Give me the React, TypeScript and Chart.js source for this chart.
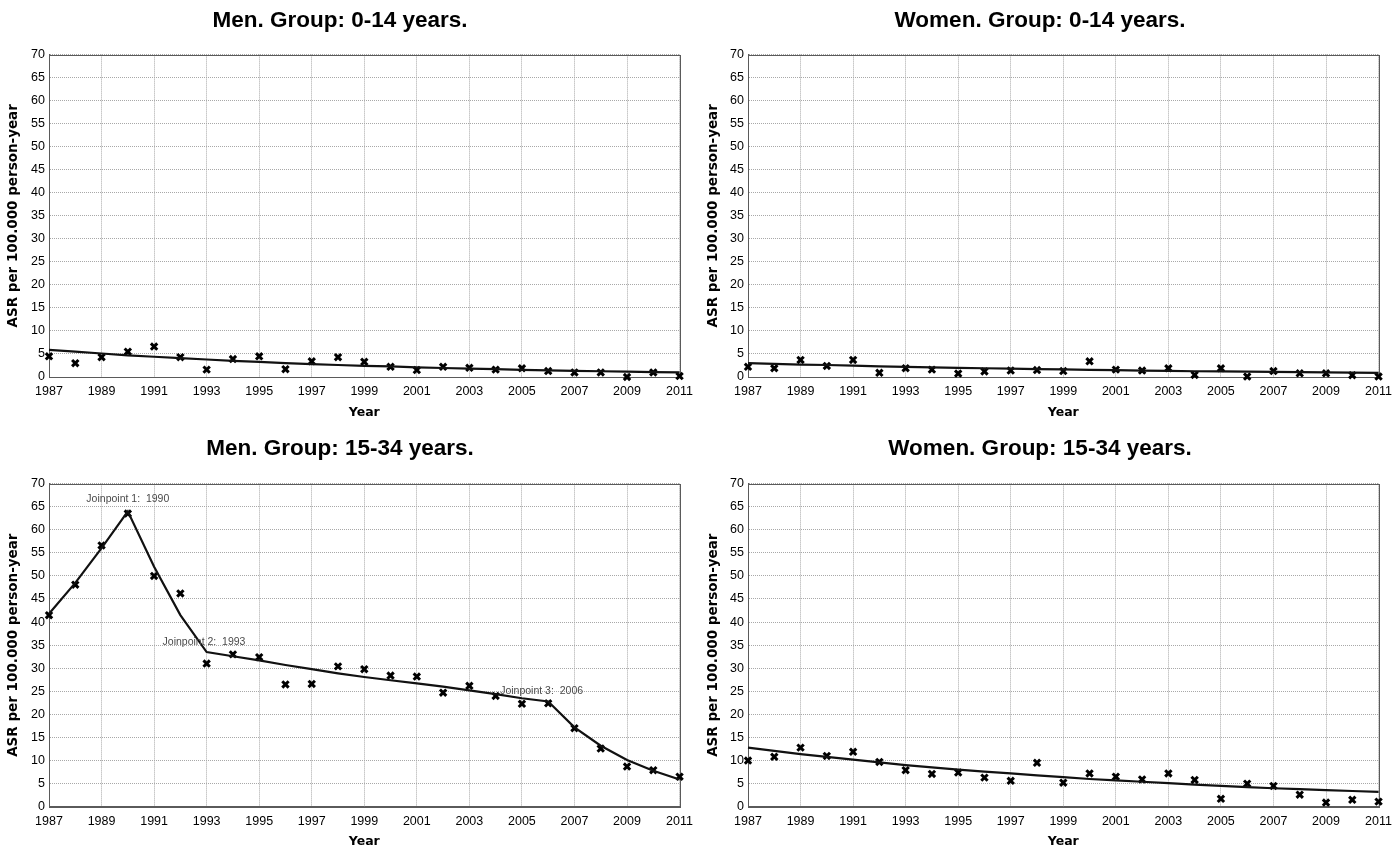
import React, { useEffect, useRef } from "react";
import { Chart, registerables } from "chart.js";

Chart.register(...registerables);

// ---------- data ----------
const YEARS = [
  1987, 1988, 1989, 1990, 1991, 1992, 1993, 1994, 1995, 1996, 1997, 1998, 1999,
  2000, 2001, 2002, 2003, 2004, 2005, 2006, 2007, 2008, 2009, 2010, 2011,
];
const X_TICKS = [1987, 1989, 1991, 1993, 1995, 1997, 1999, 2001, 2003, 2005, 2007, 2009, 2011];
const Y_TICKS = [0, 5, 10, 15, 20, 25, 30, 35, 40, 45, 50, 55, 60, 65, 70];

const MEN_0_14_OBS = [4.5, 3.0, 4.3, 5.5, 6.6, 4.3, 1.6, 3.9, 4.5, 1.7, 3.4, 4.3, 3.3, 2.2, 1.5, 2.2, 2.0, 1.6, 1.9, 1.3, 1.0, 1.0, 0.0, 1.0, 0.2];
const MEN_0_14_FIT = [5.9, 5.5, 5.1, 4.7, 4.4, 4.1, 3.8, 3.5, 3.3, 3.0, 2.8, 2.6, 2.4, 2.3, 2.1, 1.95, 1.8, 1.7, 1.55, 1.45, 1.35, 1.25, 1.15, 1.08, 1.0];

const WOMEN_0_14_OBS = [2.2, 1.9, 3.7, 2.4, 3.7, 0.9, 1.9, 1.6, 0.75, 1.2, 1.4, 1.5, 1.3, 3.4, 1.6, 1.4, 1.9, 0.45, 1.9, 0.1, 1.3, 0.8, 0.8, 0.4, 0.1];
const WOMEN_0_14_FIT = [3.0, 2.85, 2.7, 2.6, 2.45, 2.3, 2.2, 2.1, 2.0, 1.9, 1.8, 1.7, 1.65, 1.55, 1.5, 1.4, 1.35, 1.25, 1.2, 1.15, 1.1, 1.05, 1.0, 0.95, 0.9];

const MEN_15_34_OBS = [41.5, 48.1, 56.6, 63.5, 50.0, 46.2, 31.0, 33.0, 32.4, 26.5, 26.6, 30.4, 29.8, 28.4, 28.2, 24.7, 26.2, 24.0, 22.3, 22.4, 17.0, 12.6, 8.7, 7.9, 6.5];
const MEN_15_34_FIT = [41.8, 48.5, 56.0, 64.0, 52.0, 41.5, 33.5, 32.6, 31.7, 30.7, 29.8, 28.9, 28.1, 27.4, 26.7, 26.0, 25.2, 24.4, 23.5, 22.8, 17.2, 13.2, 10.1, 7.8, 5.9];

const WOMEN_15_34_OBS = [10.0, 10.8, 12.8, 11.0, 11.9, 9.7, 7.9, 7.1, 7.4, 6.3, 5.6, 9.5, 5.2, 7.2, 6.5, 5.9, 7.2, 5.8, 1.7, 5.0, 4.5, 2.6, 0.9, 1.5, 1.1];
const WOMEN_15_34_FIT = [12.8, 12.1, 11.4, 10.8, 10.2, 9.6, 9.0, 8.5, 8.05, 7.6, 7.2, 6.8, 6.4, 6.0, 5.7, 5.4, 5.1, 4.8, 4.5, 4.25, 4.0, 3.8, 3.6, 3.4, 3.2];

const JOINPOINT_LABELS = ["Joinpoint 1:  1990", "Joinpoint 2:  1993", "Joinpoint 3:  2006"];
const JOINPOINT_X = [1990.0, 1992.9, 2005.75];
const JOINPOINT_Y = [66.6, 35.6, 25.0];

const TITLES = [
  "Men. Group: 0-14 years.",
  "Women. Group: 0-14 years.",
  "Men. Group: 15-34 years.",
  "Women. Group: 15-34 years.",
];
const Y_TITLE = "ASR per 100.000 person-year";
const X_TITLE = "Year";

// ---------- layout ----------
const SANS = '"Liberation Sans", Arial, Helvetica, sans-serif';
const WIDE = '"DejaVu Sans", Verdana, sans-serif';

type Panel = {
  title: string;
  obs: number[];
  fit: number[];
  notes: { text: string; x: number; y: number }[];
  left: number;
  top: number;
  width: number;
  height: number;
  yAxisWidth: number;
  padRight: number;
  titleTop: number;
  titleBottom: number;
  xAxisHeight: number;
  yearPad: number;
};

const NOTES = JOINPOINT_LABELS.map((text, i) => ({ text, x: JOINPOINT_X[i], y: JOINPOINT_Y[i] }));

const PANELS: Panel[] = [
  { title: TITLES[0], obs: MEN_0_14_OBS, fit: MEN_0_14_FIT, notes: [], left: 0, top: 0, width: 700, height: 425, yAxisWidth: 49, padRight: 20, titleTop: 7, titleBottom: 20.6, xAxisHeight: 48, yearPad: 5 },
  { title: TITLES[1], obs: WOMEN_0_14_OBS, fit: WOMEN_0_14_FIT, notes: [], left: 700, top: 0, width: 699, height: 425, yAxisWidth: 48, padRight: 19, titleTop: 7, titleBottom: 20.6, xAxisHeight: 48, yearPad: 5 },
  { title: TITLES[2], obs: MEN_15_34_OBS, fit: MEN_15_34_FIT, notes: NOTES, left: 0, top: 425, width: 700, height: 424, yAxisWidth: 49, padRight: 20, titleTop: 10, titleBottom: 21.6, xAxisHeight: 42.3, yearPad: 0 },
  { title: TITLES[3], obs: WOMEN_15_34_OBS, fit: WOMEN_15_34_FIT, notes: [], left: 700, top: 425, width: 699, height: 424, yAxisWidth: 48, padRight: 19, titleTop: 10, titleBottom: 21.6, xAxisHeight: 42.3, yearPad: 0 },
];

const framePlugin = {
  id: "frame",
  beforeDatasetsDraw(chart: any) {
    const { ctx, chartArea } = chart;
    ctx.save();
    ctx.strokeStyle = "#5a5a5a";
    ctx.lineWidth = 1;
    ctx.strokeRect(
      Math.round(chartArea.left) + 0.5,
      Math.round(chartArea.top) + 0.5,
      Math.round(chartArea.right - chartArea.left),
      Math.round(chartArea.bottom - chartArea.top)
    );
    ctx.restore();
  },
};

function PanelChart({ p }: { p: Panel }) {
  const ref = useRef<HTMLCanvasElement>(null);
  useEffect(() => {
    const notesPlugin = {
      id: "notes",
      afterDatasetsDraw(chart: any) {
        const { ctx, scales } = chart;
        ctx.save();
        ctx.fillStyle = "#4a4a4a";
        ctx.font = `10.5px ${SANS}`;
        ctx.textAlign = "center";
        ctx.textBaseline = "middle";
        p.notes.forEach((n) => {
          ctx.fillText(n.text, scales.x.getPixelForValue(n.x), scales.y.getPixelForValue(n.y));
        });
        ctx.restore();
      },
    };
    const chart = new Chart(ref.current as HTMLCanvasElement, {
      type: "scatter",
      data: {
        datasets: [
          {
            type: "line",
            data: YEARS.map((x, i) => ({ x, y: p.fit[i] })),
            borderColor: "#111",
            borderWidth: 2.2,
            pointRadius: 0,
            fill: false,
            tension: 0,
            clip: false,
          } as any,
          {
            type: "scatter",
            data: YEARS.map((x, i) => ({ x, y: p.obs[i] })),
            pointStyle: "crossRot",
            pointRadius: 4.5,
            borderColor: "#000",
            backgroundColor: "#000",
            borderWidth: 3,
            clip: false,
          } as any,
        ],
      },
      options: {
        animation: false,
        responsive: false,
        maintainAspectRatio: false,
        layout: { padding: { left: 0, right: p.padRight, top: 0, bottom: 0 } },
        plugins: {
          legend: { display: false },
          tooltip: { enabled: false },
          title: {
            display: true,
            text: p.title,
            color: "#000",
            font: { family: SANS, size: 22.5, weight: "bold" },
            padding: { top: p.titleTop, bottom: p.titleBottom },
          },
        },
        scales: {
          x: {
            type: "linear",
            min: 1987,
            max: 2011,
            afterBuildTicks: (s: any) => {
              s.ticks = X_TICKS.map((v) => ({ value: v }));
            },
            afterFit: (s: any) => {
              s.height = p.xAxisHeight;
            },
            ticks: {
              autoSkip: false,
              maxRotation: 0,
              padding: 7,
              color: "#000",
              font: { family: SANS, size: 12.5 },
              callback: (v: any) => String(v),
            },
            grid: { color: "#a8a8a8", lineWidth: 1, drawTicks: false },
            border: { display: true, color: "#5a5a5a", width: 1, dash: [1, 1] },
            title: {
              display: true,
              text: X_TITLE,
              color: "#000",
              font: { family: WIDE, size: 12.5, weight: "bold" },
              padding: { top: 0, bottom: p.yearPad },
            },
          },
          y: {
            type: "linear",
            min: 0,
            max: 70,
            afterBuildTicks: (s: any) => {
              s.ticks = Y_TICKS.map((v) => ({ value: v }));
            },
            afterFit: (s: any) => {
              s.width = p.yAxisWidth;
            },
            ticks: {
              padding: 4,
              color: "#000",
              font: { family: SANS, size: 12.5 },
              callback: (v: any) => String(v),
            },
            grid: { color: "#a8a8a8", lineWidth: 1, drawTicks: false },
            border: { display: true, color: "#5a5a5a", width: 1, dash: [1, 1] },
            title: {
              display: true,
              text: Y_TITLE,
              color: "#000",
              font: { family: WIDE, size: 13.5, weight: "bold" },
              padding: { top: 5, bottom: 0 },
            },
          },
        },
      } as any,
      plugins: [framePlugin, notesPlugin],
    });
    return () => chart.destroy();
  }, [p]);
  return (
    <canvas
      ref={ref}
      width={p.width}
      height={p.height}
      style={{ position: "absolute", left: p.left, top: p.top, width: p.width, height: p.height }}
    />
  );
}

export default function App() {
  return (
    <div style={{ position: "absolute", left: 0, top: 0, width: 1399, height: 849, background: "#fff", overflow: "hidden" }}>
      {PANELS.map((p, i) => (
        <PanelChart key={i} p={p} />
      ))}
    </div>
  );
}
